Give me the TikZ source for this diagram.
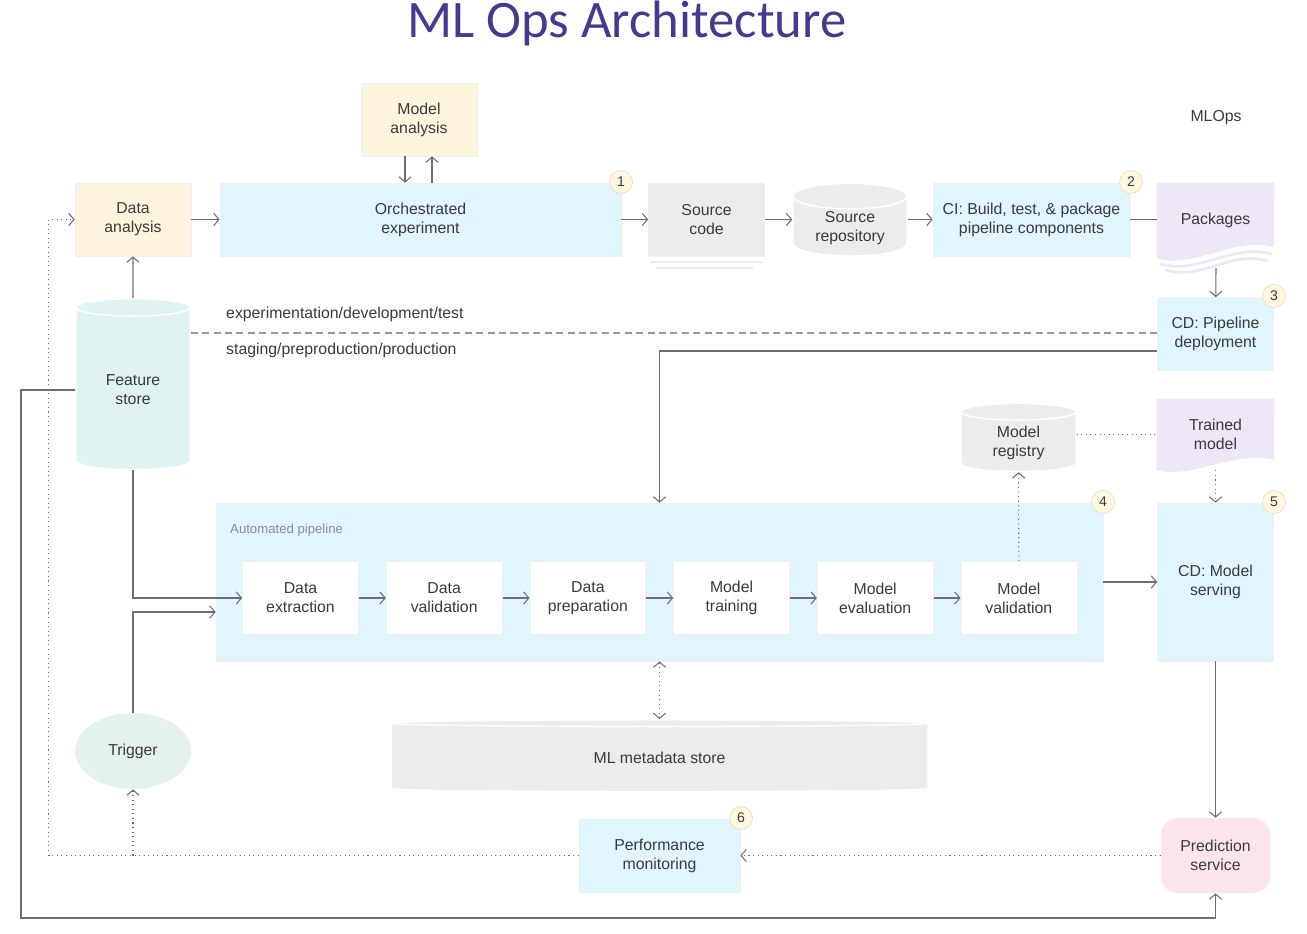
\documentclass[tikz,border=0pt]{standalone}
\usepackage{fontspec}
\setmainfont{Liberation Sans}
\newfontfamily\titlefont{Carlito}
\usetikzlibrary{positioning}
\usetikzlibrary{shapes.geometric}
\usetikzlibrary{arrows.meta}
\usetikzlibrary{backgrounds}
\usepackage{xcolor}
\definecolor{cream}{HTML}{FDF5DD}
\definecolor{sky}{HTML}{E1F5FE}
\definecolor{stone}{HTML}{ECECEE}
\definecolor{lav}{HTML}{EDE7F6}
\definecolor{mint}{HTML}{E0F2F1}
\definecolor{trig}{HTML}{E3F2EC}
\definecolor{rose}{HTML}{FCE4EC}
\definecolor{edge}{HTML}{6E6E6E}
\definecolor{txt}{HTML}{3A3A3A}
\definecolor{badgefill}{HTML}{FFF8E1}
\definecolor{badgeedge}{HTML}{EADFC0}
\definecolor{titlec}{HTML}{4A3790}

\begin{document}
\begin{tikzpicture}[x=0.02cm, y=-0.02cm,
        every node/.style={font=\fontsize{9}{10.8}\selectfont, text=txt, align=center},
        box/.style={rectangle, draw=black!6, minimum width=2.32cm, minimum height=1.46cm, inner sep=1pt},
        cyl/.style={cylinder, shape border rotate=90, draw=white, line width=0.8pt, fill=stone, inner sep=1pt},
        badge/.style={circle, draw=badgeedge, fill=badgefill, minimum size=0.46cm, inner sep=0pt, font=\fontsize{8}{9}\selectfont},
        conn/.style={draw=edge, line width=0.6pt, -{Straight Barb[length=3pt, width=7pt]}},
        plain/.style={draw=edge, line width=0.6pt},
        dotconn/.style={conn, dotted},
        dotline/.style={plain, dotted},
        dashline/.style={draw=edge!70, line width=0.6pt, dash pattern=on 4pt off 2.5pt}]
        \useasboundingbox (0,0) rectangle (1307,933);

        \node[font=\titlefont\fontsize{30}{36}\selectfont, text=titlec, anchor=base] (title) at (627,37) {ML Ops Architecture};
        \node (mlops) at (1216,118) {MLOps};

        \node[box, fill=cream] (ma) at (419,119.5) {Model\\analysis};
        \node[box, fill=cream] (da) at (133,219.5) {Data\\analysis};
        \node[box, fill=sky, minimum width=8.02cm] (oe) at (420.5,219.5) {Orchestrated\\experiment};
        \node[box, fill=stone] (sc) at (706.5,219.5) {Source\\code};
        \node[cyl, minimum width=2.28cm, minimum height=1.42cm, aspect=0.35] (sr) at (850,228) {Source\\repository};
        \node[box, fill=sky, minimum width=3.94cm] (ci) at (1031.5,219.5) {CI: Build, test, \& package\\pipeline components};
        \node[minimum width=2.34cm, minimum height=1.5cm, inner sep=0pt] (pk) at (1215.5,220.5) {Packages};
        \node[box, fill=sky] (cdp) at (1215.5,334) {CD: Pipeline\\deployment};

        \node[cyl, fill=mint, minimum width=2.28cm, minimum height=3.42cm, aspect=0.3] (fs) at (133,390) {Feature\\store};

        \node[cyl, minimum width=2.3cm, minimum height=1.36cm, aspect=0.3] (mr) at (1018.5,443) {Model\\registry};
        \node[minimum width=2.34cm, minimum height=1.42cm, inner sep=0pt] (tm) at (1215.5,434.5) {Trained\\model};

        \node[box, fill=sky, minimum width=17.74cm, minimum height=3.16cm] (ap) at (659.5,582) {};
        \node[anchor=west, font=\fontsize{7.5}{9}\selectfont, text=black!45] (aplabel) at (224,530) {Automated pipeline};
        \node[box, fill=white] (s1) at (300.5,598) {Data\\extraction};
        \node[box, fill=white, right=0.54cm of s1] (s2) {Data\\validation};
        \node[box, fill=white, right=0.54cm of s2] (s3) {Data\\preparation};
        \node[box, fill=white, right=0.54cm of s3] (s4) {Model\\training};
        \node[box, fill=white, right=0.54cm of s4] (s5) {Model\\evaluation};
        \node[box, fill=white, right=0.54cm of s5] (s6) {Model\\validation};
        \node[box, fill=sky, minimum height=3.16cm] (cdm) at (1215.5,582) {CD: Model\\serving};

        \node[ellipse, fill=trig, minimum width=2.32cm, minimum height=1.52cm] (tr) at (133,751) {Trigger};
        \node[cyl, minimum width=10.74cm, minimum height=1.44cm, aspect=0.05] (md) at (659.5,758) {ML metadata store};
        \node[box, fill=sky, minimum width=3.22cm] (pm) at (659.5,855.5) {Performance\\monitoring};
        \node[rectangle, rounded corners=0.34cm, fill=rose, draw=black!4, minimum width=2.18cm, minimum height=1.5cm] (ps) at (1215.5,855.5) {Prediction\\service};

        \node[badge] (b1) at (621,182) {1};
        \node[badge] (b2) at (1131,182) {2};
        \node[badge] (b3) at (1274,296) {3};
        \node[badge] (b4) at (1103,502) {4};
        \node[badge] (b5) at (1274,502) {5};
        \node[badge] (b6) at (741,818) {6};

        \begin{scope}[on background layer]
            \fill[lav] (pk.north west) -- (pk.north east) -- (1274,247)
                .. controls +(-39,-11) and +(38,11) .. (pk.south west) -- cycle;
            \draw[lav, line width=1.5pt] (1160,264) .. controls +(38,11) and +(-39,-11) .. (1272,254);
            \draw[lav, line width=1.5pt] (1165,270) .. controls +(38,11) and +(-39,-11) .. (1268,261);
            \fill[lav] (tm.north west) -- (tm.north east) -- (1274,460)
                .. controls +(-39,-10) and +(35,9) .. (tm.south west) -- cycle;
        \end{scope}
        \draw[stone, line width=1.3pt] ([xshift=0.04cm, yshift=-0.12cm]sc.south west) -- ([xshift=-0.04cm, yshift=-0.12cm]sc.south east);
        \draw[stone, line width=1.3pt] ([xshift=0.16cm, yshift=-0.24cm]sc.south west) -- ([xshift=-0.24cm, yshift=-0.24cm]sc.south east);

        \draw[conn] ([xshift=-0.28cm]ma.south) -- ([xshift=-0.28cm]ma.south |- oe.north);
        \draw[conn] ([xshift=0.26cm]ma.south |- oe.north) -- ([xshift=0.26cm]ma.south);
        \draw[conn] (da) -- (oe);
        \draw[conn] (oe) -- (sc);
        \draw[conn] (sc) -- (sc -| sr.west);
        \draw[conn] (sr.east |- ci) -- (ci);
        \draw[plain] (ci) -- (ci -| pk.west);
        \coordinate (pkfoot) at (1216,268);
        \draw[conn] (pkfoot) -- (cdp);

        \draw[conn] (fs) -- (da);
        \draw[dashline] (fs.east |- 0,333) -- (cdp.west |- 0,333);
        \node[anchor=west] (exp) at (220,314) {experimentation/development/test};
        \node[anchor=west] (prod) at (220,350) {staging/preproduction/production};
        \draw[conn] ([yshift=-0.34cm]cdp.west) -| (ap);

        \draw[conn] (fs.west) -| (21,918) -| (ps);
        \draw[conn] (fs.south) |- (s1);
        \draw[conn] (tr) |- ([yshift=-0.6cm]ap.west);
        \foreach \a/\b in {s1/s2, s2/s3, s3/s4, s4/s5, s5/s6}
            \draw[conn] (\a) -- (\b);

        \draw[dotconn] (s6) -- (mr);
        \draw[dotline] (mr.east |- tm.west) -- (tm.west);
        \draw[dotconn] (tm.south) -- (cdm);
        \draw[conn] (ap) -- (cdm);
        \draw[conn] (cdm) -- (ps);
        \draw[dotconn] (ps) -- (pm);
        \draw[dotconn] (pm) -| ([xshift=-0.52cm]da.west) -- (da);
        \draw[dotconn] (pm.west -| tr) -- (tr);
        \draw[dotconn, {Straight Barb[length=3pt, width=7pt]}-{Straight Barb[length=3pt, width=7pt]}] (ap) -- (md);
    \end{tikzpicture}
\end{document}
